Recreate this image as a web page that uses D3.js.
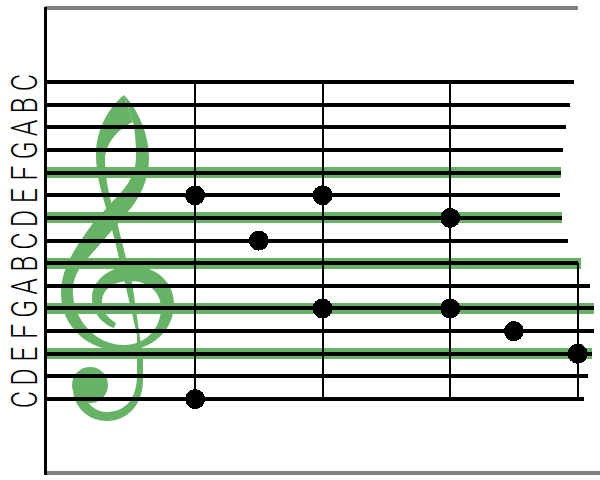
<!DOCTYPE html>
<html>
<head>
<meta charset="utf-8">
<script src="https://cdn.jsdelivr.net/npm/d3@7"></script>
<style>
body { margin: 0; background: #fff; }
svg { display: block; }
.pitch text { font-family: Roboto, "Liberation Sans", sans-serif; font-weight: 300; font-size: 37px; fill: #000; }
</style>
</head>
<body>
<div id="chart"></div>
<script>
// pitch names bottom to top, one per staff line
var pitchNames = ['C','D','E','F','G','A','B','C','D','E','F','G','A','B','C'];
var pitches = d3.range(pitchNames.length);

// where each line stops, in beats (the lines wobble a bit on the right)
var lineEnds = [6.10, 6.16, 6.23, 6.26, 6.26, 6.20, 6.01, 5.85, 5.76, 5.72, 5.74, 5.77, 5.82, 5.88, 5.94];
var bandPitches = [2, 4, 6, 8, 10];
var bandEnds = [6.23, 6.26, 6.05, 5.76, 5.74];

// bar lines: beat, top pitch
var barBeats = [0, 2, 4, 6];
var barTops = [14, 14, 14, 6];

// notes
var noteBeats = [0, 0, 1, 2, 2, 4, 4, 5, 6];
var notePitches = [0, 9, 7, 9, 4, 8, 4, 3, 2];

var svgWidth = 600, svgHeight = 480;

var svg = d3.select('#chart').append('svg')
    .attr('width', svgWidth)
    .attr('height', svgHeight);

var x = d3.scaleLinear().domain([-2.36, 6]).range([44.6, 577.7]);
var y = d3.scaleLinear().domain([-3.31, 17.36]).range([474, 6]);

// frame, grey top and bottom
svg.append('g').selectAll('line')
    .data([[17.27, 6], [-3.27, 6.4]])
    .enter().append('line')
    .attr('x1', x(-2.36))
    .attr('x2', d => x(d[1]))
    .attr('y1', d => y(d[0]))
    .attr('y2', d => y(d[0]))
    .attr('stroke', '#808080')
    .attr('stroke-width', 4)
    .attr('shape-rendering', 'crispEdges');

// green bands on every second line
svg.append('g').selectAll('line')
    .data(bandPitches)
    .enter().append('line')
    .attr('x1', x(-2.33))
    .attr('x2', (d, i) => x(bandEnds[i]))
    .attr('y1', d => y(d))
    .attr('y2', d => y(d))
    .attr('stroke', '#66b366')
    .attr('stroke-width', 11)
    .attr('shape-rendering', 'crispEdges');

// treble clef
var clefParts = [
    // right side of the loop, diagonal, spiral
    'M124,95 C136,107 149,132 149,158 C149,180 140,198 127,213 L88,258 C78,268 72,280 73,294 C74,318 94,345 124,345 ' +
    'C146,345 161,328 161,308 C161,292 148,281 130,281 C113,281 102,290 102,302 C102,312 108,318 116,323 L114,328 ' +
    'C102,324 92,312 92,298 C92,280 110,266 132,266 C156,266 174,282 174,304 C174,330 152,351 122,351 ' +
    'C88,351 61,326 61,294 C61,270 72,252 93,223 L112,202 C122,192 136,178 136,157 C136,143 135,131 133,122 Z',
    // thin strand, stem and hook
    'M124,95 C108,108 96,130 96,155 C96,175 102,195 108,214 C113,232 117,250 121,266 L137,335 L137,375 ' +
    'C137,398 126,412 107,412 C96,412 88,405 84,395 L73,392 C76,410 90,421 107,421 C128,421 143,404 143,380 ' +
    'L143,358 L132,282 L117,222 C112,208 105,180 105,160 C105,145 116,130 133,122 Z'
];

svg.append('g').selectAll('path')
    .data(clefParts)
    .enter().append('path')
    .attr('d', d => d)
    .attr('fill', '#66b366');

svg.append('circle')
    .attr('cx', 90)
    .attr('cy', 385)
    .attr('r', 18)
    .attr('fill', '#66b366');

// staff lines
svg.append('g').selectAll('line')
    .data(pitches)
    .enter().append('line')
    .attr('x1', x(-2.36))
    .attr('x2', (d, i) => x(lineEnds[i]))
    .attr('y1', d => y(d))
    .attr('y2', d => y(d))
    .attr('stroke', '#000')
    .attr('stroke-width', 4)
    .attr('shape-rendering', 'crispEdges');

// bar lines
svg.append('g').selectAll('line')
    .data(barBeats)
    .enter().append('line')
    .attr('x1', d => x(d))
    .attr('x2', d => x(d))
    .attr('y1', y(0))
    .attr('y2', (d, i) => y(barTops[i]))
    .attr('stroke', '#000')
    .attr('stroke-width', 2)
    .attr('shape-rendering', 'crispEdges');

// notes
svg.append('g').selectAll('circle')
    .data(noteBeats)
    .enter().append('circle')
    .attr('cx', d => x(d))
    .attr('cy', (d, i) => y(notePitches[i]))
    .attr('r', 10)
    .attr('fill', '#000')
    .attr('shape-rendering', 'crispEdges');

// left axis carries the pitch names
var yAxis = d3.axisLeft(y)
    .tickValues(pitches)
    .tickFormat(d => pitchNames[d])
    .tickSize(0);

var axisG = svg.append('g')
    .attr('class', 'pitch')
    .attr('transform', 'translate(44.5,0)')
    .call(yAxis);

axisG.select('.domain')
    .attr('stroke', '#000')
    .attr('stroke-width', 3)
    .attr('shape-rendering', 'crispEdges');

axisG.selectAll('.tick text')
    .attr('x', 0)
    .attr('y', 0)
    .attr('dy', 0)
    .attr('text-anchor', 'middle')
    .attr('transform', 'translate(-8,0) rotate(-90) scale(0.72,1)');
</script>
</body>
</html>
